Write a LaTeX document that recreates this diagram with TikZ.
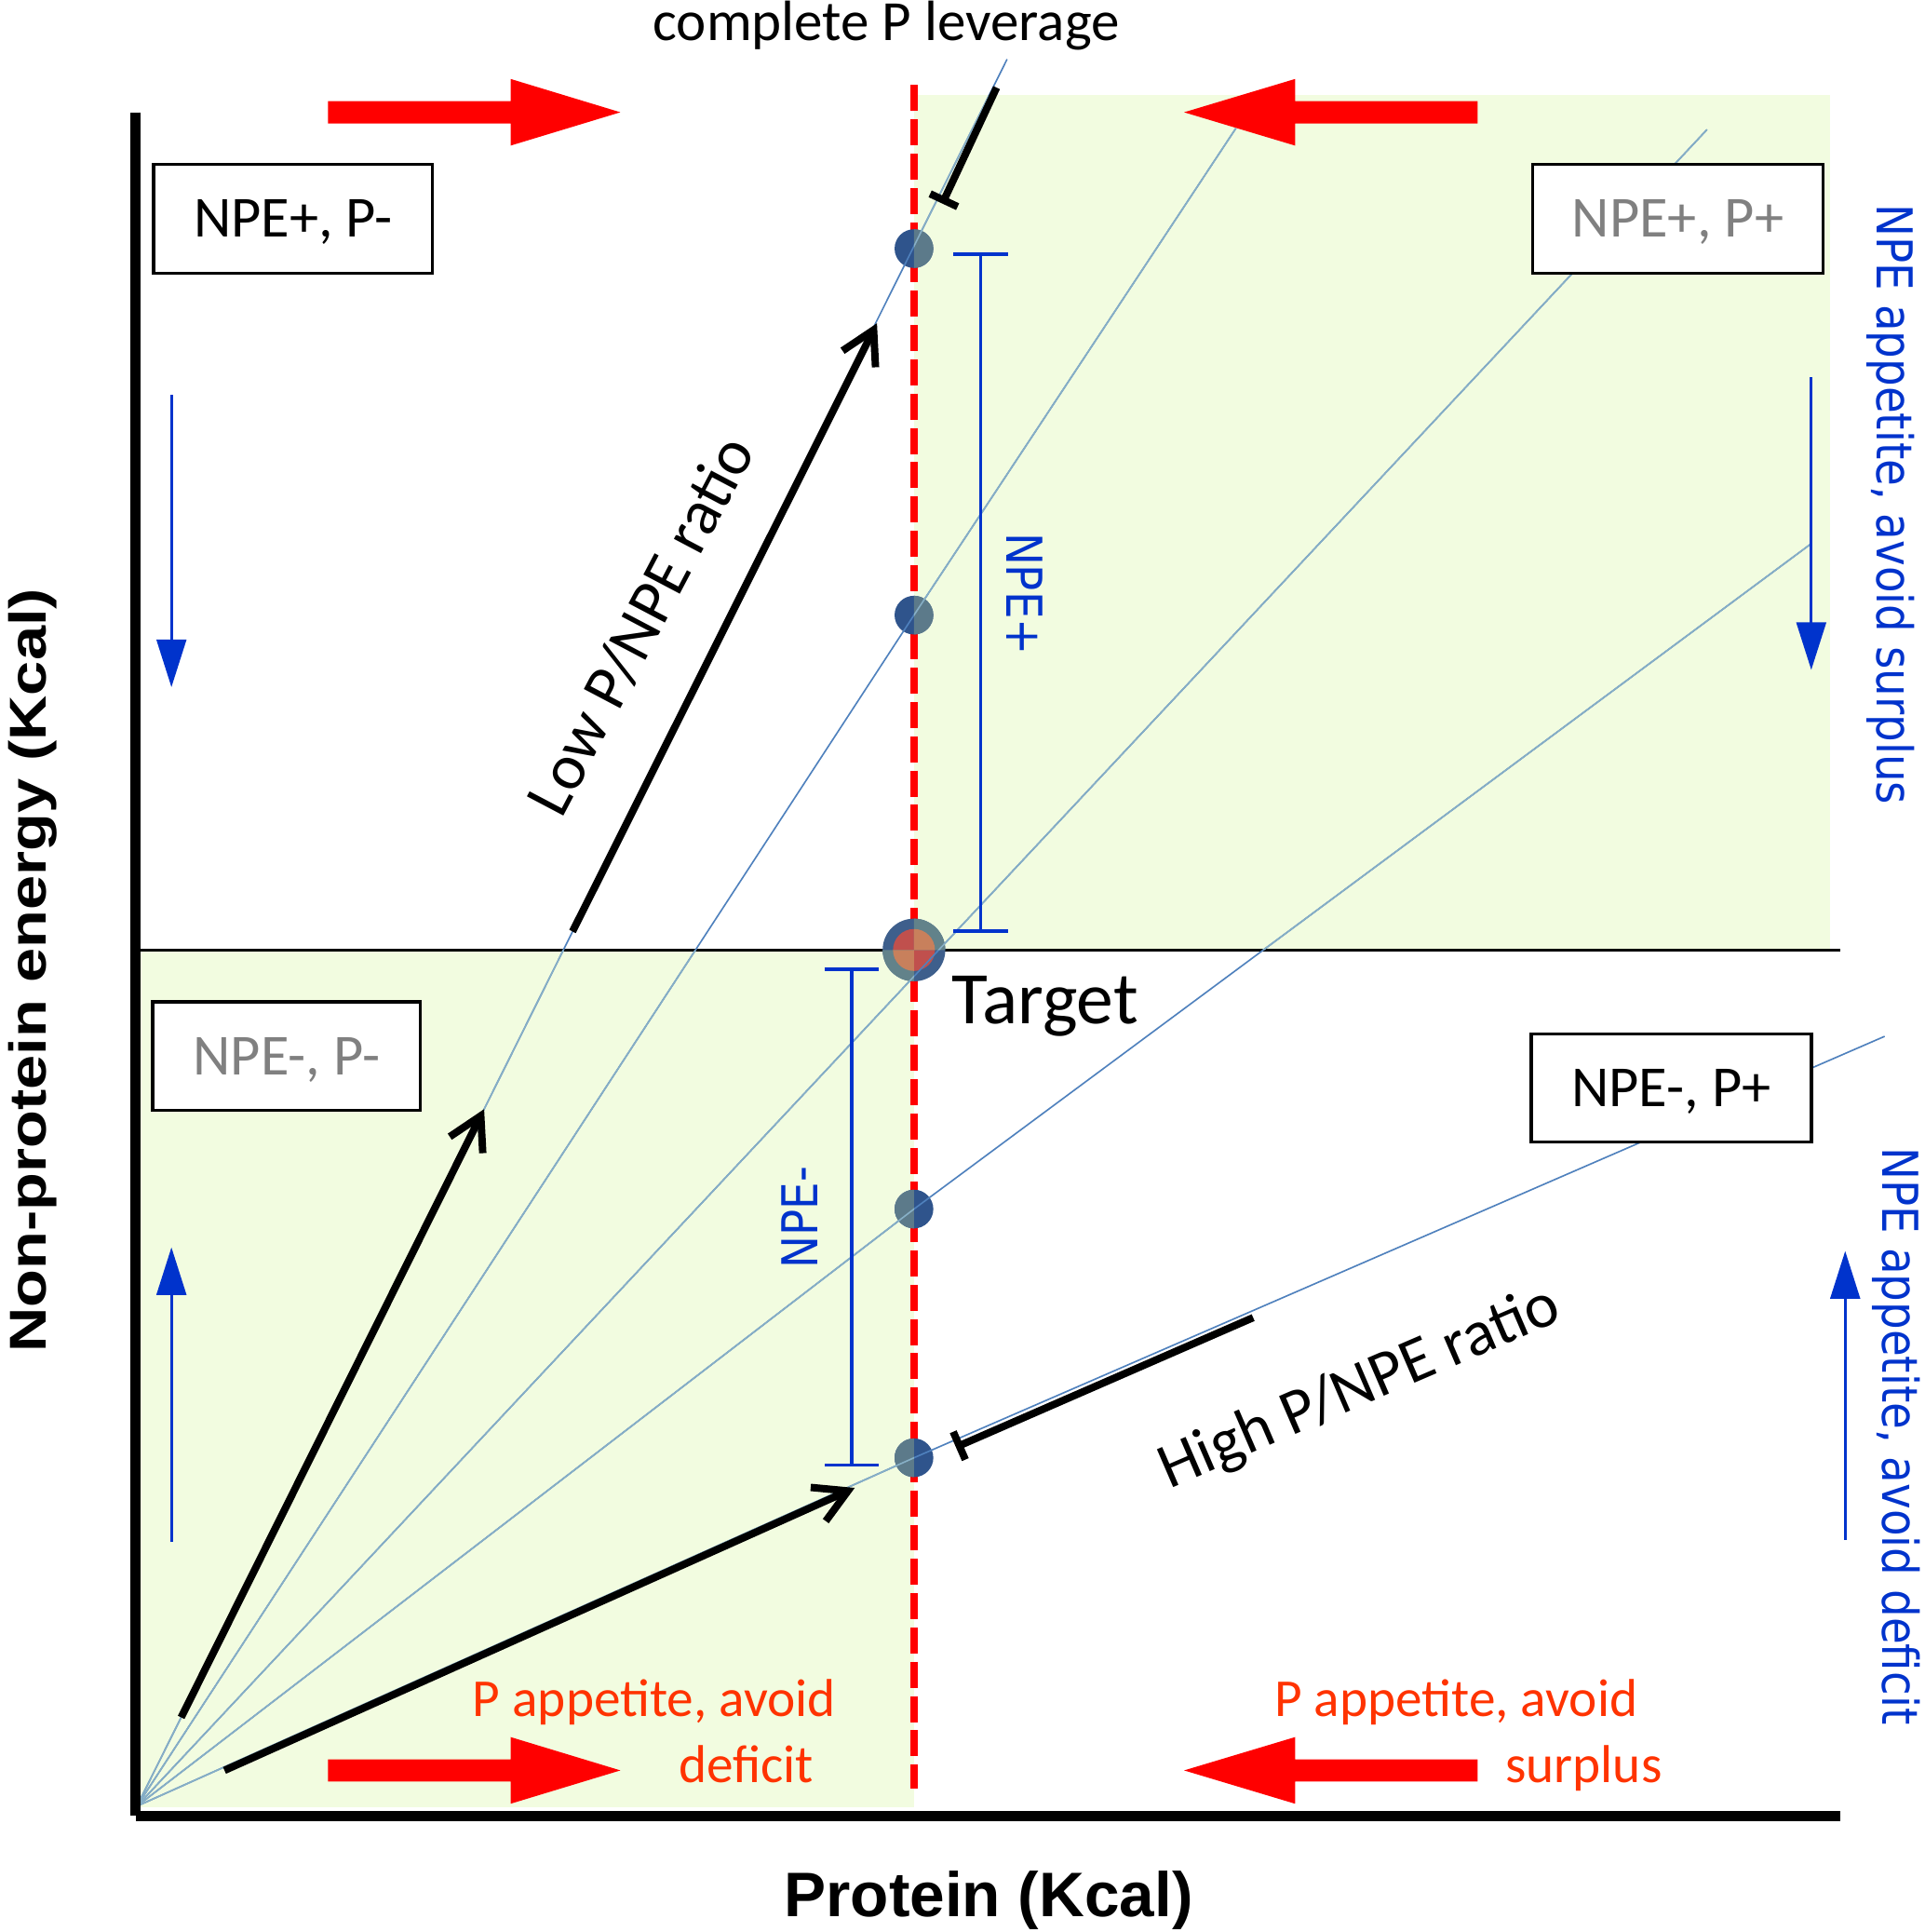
\documentclass[tikz,border=0pt]{standalone}
\usepackage{fontspec}
\setmainfont{Carlito}
\newfontfamily\arialf{Liberation Sans}
\newfontfamily\arialv[FakeStretch=1.2]{Liberation Sans}
\newfontfamily\tahomaf[FakeStretch=0.88]{DejaVu Sans}
\usetikzlibrary{arrows.meta}
\definecolor{greenbg}{RGB}{242,252,224}
\definecolor{rayblue}{RGB}{79,129,189}
\definecolor{raygray}{RGB}{135,175,198}
\definecolor{dotblue}{RGB}{47,84,140}
\definecolor{dotlight}{RGB}{92,122,138}
\definecolor{ringblue}{RGB}{62,95,140}
\definecolor{ringlight}{RGB}{98,130,138}
\definecolor{tred}{RGB}{192,80,77}
\definecolor{tredlight}{RGB}{200,128,92}
\definecolor{txtblue}{RGB}{0,51,204}
\definecolor{txtred}{RGB}{255,51,0}
\definecolor{boxgray}{RGB}{128,128,128}
\tikzset{
  axisline/.style={line width=2.4pt},
  midline/.style={line width=0.7pt},
  reddash/.style={draw=red, line width=1.7pt, dash pattern=on 6pt off 1.9pt},
  rayb/.style={draw=rayblue, line width=0.35pt},
  rayg/.style={draw=raygray, line width=0.35pt},
  blkarrow/.style={line width=1.7pt, -{Straight Barb[length=7.5pt,width=8.5pt]}},
  blkbar/.style={line width=1.7pt, {Bar[width=7pt]}-},
  ebar/.style={draw=txtblue, line width=0.8pt, {Bar[width=12.5pt]}-{Bar[width=12.5pt]}},
  bluearrow/.style={draw=txtblue, line width=0.7pt, -{Triangle[length=11pt,width=6.8pt]}},
  qbox/.style={draw, line width=0.7pt, fill=white, inner sep=0pt, text depth=0pt,
    font=\fontsize{13.4}{16}\selectfont},
  redtxt/.style={text=txtred, inner sep=0pt, anchor=base, font=\fontsize{12.3}{15}\selectfont},
  bluetxt/.style={text=txtblue, inner sep=0pt, font=\tahomaf\fontsize{11.4}{14}\selectfont},
  ratiotxt/.style={inner sep=0pt, anchor=base, font=\fontsize{14.8}{18}\selectfont},
}
\begin{document}
\begin{tikzpicture}[x=0.01cm,y=-0.01cm]
\useasboundingbox (0,0) rectangle (1560,1566);
\fill[white] (0,0) rectangle (1560,1566);

% green quadrants
\fill[greenbg] (741,77) rectangle (1484,770);
\fill[greenbg] (113,770) rectangle (741,1465);

% coordinates
\coordinate (O) at (111,1464);
\coordinate (D1) at (741,201.5);
\coordinate (D2) at (741,498.6);
\coordinate (T)  at (741,770);
\coordinate (D4) at (741,980);
\coordinate (D5) at (741,1181.6);
\coordinate (R1) at (816.5,48);
\coordinate (R2) at (1002,104);
\coordinate (R3) at (1384,105);
\coordinate (R4) at (1468,441);
\coordinate (R5) at (1528,840);
\coordinate (ML1) at (113,770);
\coordinate (ML2) at (1492,770);
\coordinate (RD1) at (741,69);
\coordinate (RD2) at (741,1450);

% middle line
\draw[midline] (ML1) -- (ML2);
% red dashed target line
\draw[reddash] (RD1) -- (RD2);

% dots
\foreach \d in {D1,D2,D4,D5} \fill[dotblue] (\d) circle (15.7);
\fill[ringblue] (T) circle (25.4);
\fill[tred] (T) circle (17);

% rays
\draw[rayb] (O) -- (R1);
\draw[rayb] (O) -- (D2) -- (R2);
\draw[rayb] (O) -- (R3);
\draw[rayb] (O) -- (D4) -- (R4);
\draw[rayb] (O) -- (D5) -- (R5);

% parts inside the green quadrants
\begin{scope}
\clip (741,77) rectangle (1484,770) (113,770) rectangle (741,1465);
\foreach \d in {D1,D2,D4,D5} \fill[dotlight] (\d) circle (15.7);
\fill[ringlight] (T) circle (25.4);
\fill[tredlight] (T) circle (17);
\draw[rayg] (O) -- (R1);
\draw[rayg] (O) -- (D2) -- (R2);
\draw[rayg] (O) -- (R3);
\draw[rayg] (O) -- (D4) -- (R4);
\draw[rayg] (O) -- (D5) -- (R5);
\end{scope}

% axes
\coordinate (Ytop) at (110,91);
\coordinate (Ybot) at (110,1472);
\coordinate (Xleft) at (110,1472);
\coordinate (Xright) at (1492,1472);
\draw[axisline] (Ytop) -- (Ybot);
\draw[axisline] (Xleft) -- (Xright);

% error bars
\coordinate (EP1) at (795,204.5);
\coordinate (EP2) at (795,756);
\coordinate (EM1) at (690.5,784);
\coordinate (EM2) at (690.5,1189);
\draw[ebar] (EP1) -- (EP2);
\draw[ebar] (EM1) -- (EM2);

% blue arrows
\coordinate (BA1s) at (139,320);    \coordinate (BA1e) at (139,557);
\coordinate (BA2s) at (139,1250);   \coordinate (BA2e) at (139,1011);
\coordinate (BA3s) at (1468.5,306); \coordinate (BA3e) at (1468.5,543);
\coordinate (BA4s) at (1496,1248);  \coordinate (BA4e) at (1496,1014);
\draw[bluearrow] (BA1s) -- (BA1e);
\draw[bluearrow] (BA2s) -- (BA2e);
\draw[bluearrow] (BA3s) -- (BA3e);
\draw[bluearrow] (BA4s) -- (BA4e);

% red block arrows
\fill[red] (266,82)--(414,82)--(414,64)--(503,91)--(414,118)--(414,100)--(266,100)--cycle;
\fill[red] (1198,82)--(1050,82)--(1050,64)--(960,91)--(1050,118)--(1050,100)--(1198,100)--cycle;
\fill[red] (266,1426)--(414,1426)--(414,1408)--(503,1435)--(414,1462)--(414,1444)--(266,1444)--cycle;
\fill[red] (1198,1426)--(1050,1426)--(1050,1408)--(960,1435)--(1050,1462)--(1050,1444)--(1198,1444)--cycle;

% black arrows along the rays
\coordinate (A1s) at (146.9,1392);  \coordinate (A1e) at (392.5,899);
\coordinate (A2s) at (464.2,755);   \coordinate (A2e) at (711,262);
\coordinate (A3s) at (764,165);     \coordinate (A3e) at (808,71);
\coordinate (A4s) at (182,1435);    \coordinate (A4e) at (693,1206);
\coordinate (A5s) at (775,1173);    \coordinate (A5e) at (1016,1068);
\draw[blkarrow] (A1s) -- (A1e);
\draw[blkarrow] (A2s) -- (A2e);
\draw[blkbar] (A3s) -- (A3e);
\draw[blkarrow] (A4s) -- (A4e);
\draw[blkbar] (A5s) -- (A5e);

% boxes
\node[qbox, minimum width=2.26cm, minimum height=0.884cm] (b1) at (237.5,177.2) {NPE+, P-};
\node[qbox, minimum width=2.354cm, minimum height=0.884cm, text=boxgray] (b2) at (1360.3,177.2) {NPE+, P+};
\node[qbox, minimum width=2.17cm, minimum height=0.88cm, text=boxgray] (b3) at (232.3,856) {NPE-, P-};
\node[qbox, minimum width=2.27cm, minimum height=0.876cm] (b4) at (1355,882) {NPE-, P+};

% texts
\node[anchor=base, inner sep=0pt, font=\fontsize{13.1}{16}\selectfont] (lev) at (718.5,32.6) {complete P leverage};
\node[anchor=base west, inner sep=0pt, font=\fontsize{17.1}{20}\selectfont] (tgt) at (771,830) {Target};
\node[ratiotxt, rotate=62.2] (low) at (534.3,514.8) {Low P/NPE ratio};
\node[ratiotxt, rotate=23.3] (high) at (1108,1138) {High P/NPE ratio};

\node[bluetxt, rotate=-90, anchor=base west] (npep) at (816,431) {NPE+};
\node[bluetxt, rotate=90, anchor=base east] (npem) at (663,945) {NPE-};
\node[bluetxt, rotate=-90, anchor=base west] (sur) at (1522,165) {NPE appetite, avoid surplus};
\node[bluetxt, rotate=-90, anchor=base west] (def) at (1526,929.5) {NPE appetite, avoid deficit};

\node[redtxt] (pl1) at (530.5,1391) {P appetite, avoid};
\node[redtxt] (pl2) at (605,1444.7) {deficit};
\node[redtxt] (pr1) at (1180.5,1391) {P appetite, avoid};
\node[redtxt] (pr2) at (1284,1444.7) {surplus};

\node[anchor=base, inner sep=0pt, font=\arialf\bfseries\fontsize{14.5}{17}\selectfont] (xl) at (801.5,1553.6) {Protein (Kcal)};
\node[rotate=90, anchor=base, inner sep=0pt, font=\arialv\bfseries\fontsize{11.95}{14}\selectfont] (yl) at (37.7,786.5) {Non-protein energy (Kcal)};
\end{tikzpicture}
\end{document}
